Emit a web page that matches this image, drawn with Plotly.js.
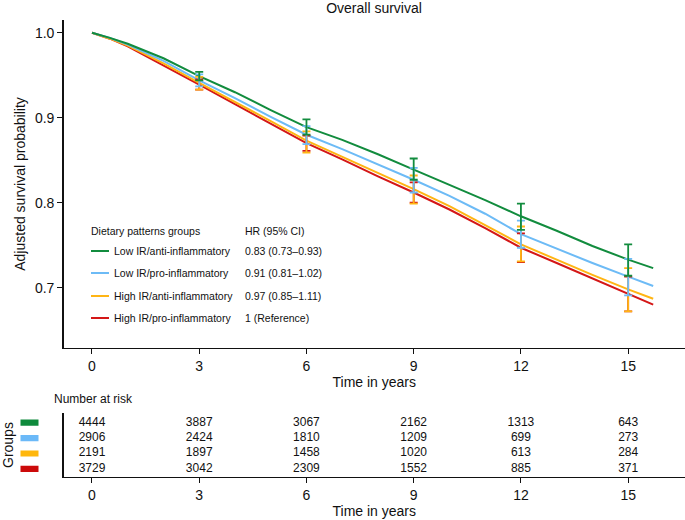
<!DOCTYPE html>
<html><head><meta charset="utf-8">
<script src="https://cdn.plot.ly/plotly-3.0.1.min.js"></script>
<style>html,body{margin:0;padding:0;background:#fff}</style>
</head><body><div id="chart" style="width:685px;height:520px"></div>
<script>
// ---------- data ----------
const groupNames = ['Low IR/anti-inflammatory','Low IR/pro-inflammatory','High IR/anti-inflammatory','High IR/pro-inflammatory'];
const hrLabels = ['0.83 (0.73\u20130.93)','0.91 (0.81\u20131.02)','0.97 (0.85\u20131.11)','1 (Reference)'];
const times = [0,0.5,1,2,3,4,5,6,7,8,9,10,11,12,13,14,15,15.7];
const survLowAnti  = [1.000,0.994,0.987,0.970,0.949,0.930,0.909,0.889,0.874,0.857,0.839,0.821,0.803,0.784,0.767,0.749,0.733,0.723];
const survLowPro   = [1.000,0.994,0.986,0.967,0.944,0.923,0.901,0.880,0.863,0.845,0.827,0.808,0.787,0.763,0.746,0.729,0.713,0.702];
const survHighAnti = [1.000,0.993,0.985,0.964,0.941,0.919,0.896,0.873,0.854,0.835,0.816,0.796,0.774,0.751,0.733,0.715,0.698,0.687];
const survHighPro  = [1.000,0.993,0.984,0.962,0.939,0.916,0.893,0.870,0.851,0.831,0.812,0.792,0.770,0.747,0.729,0.711,0.693,0.680];
const ciTimes = [3,6,9,12,15];
const ciLowLowAnti  = [0.944,0.880,0.827,0.768,0.714];
const ciUpLowAnti   = [0.954,0.898,0.852,0.799,0.751];
const ciLowLowPro   = [0.937,0.869,0.812,0.747,0.691];
const ciUpLowPro    = [0.951,0.890,0.841,0.779,0.734];
const ciLowHighAnti = [0.933,0.859,0.799,0.731,0.672];
const ciUpHighAnti  = [0.948,0.884,0.832,0.772,0.723];
const ciLowHighPro  = [0.933,0.861,0.800,0.730,0.672];
const ciUpHighPro   = [0.945,0.879,0.824,0.764,0.713];
const riskTimes = [0,3,6,9,12,15];
const riskLowAnti  = [4444,3887,3067,2162,1313,643];
const riskLowPro   = [2906,2424,1810,1209,699,273];
const riskHighAnti = [2191,1897,1458,1020,613,284];
const riskHighPro  = [3729,3042,2309,1552,885,371];
const xTicks = [0,3,6,9,12,15];
const yTicks = [0.7,0.8,0.9,1.0];

// ---------- styling ----------
const colors = ['#128C3E','#6DBBF6','#FFB514','#D41717'];
const swatchColors = ['#0E8A3C','#6BB9F8','#FFB70C','#CC0A0A'];
const W = 685, H = 520;
const px = v => v / W;
const py = v => (H - v) / H;
const FONT = 'Liberation Sans, Arial, Helvetica, sans-serif';

const surv = [survLowAnti, survLowPro, survHighAnti, survHighPro];
const ciLo = [ciLowLowAnti, ciLowLowPro, ciLowHighAnti, ciLowHighPro];
const ciUp = [ciUpLowAnti, ciUpLowPro, ciUpHighAnti, ciUpHighPro];
const risk = [riskLowAnti, riskLowPro, riskHighAnti, riskHighPro];

const traces = [];
const order = [3,2,1,0];
order.forEach(g => {
  traces.push({x: times, y: surv[g], type:'scatter', mode:'lines', xaxis:'x', yaxis:'y',
    line:{color: colors[g], width: 2}, hoverinfo:'skip', showlegend:false});
});
order.forEach(g => {
  const center = ciTimes.map(t => surv[g][times.indexOf(t)]);
  traces.push({x: ciTimes, y: center, type:'scatter', mode:'markers', xaxis:'x', yaxis:'y',
    marker:{size:2, color:'rgba(0,0,0,0)'}, showlegend:false, hoverinfo:'skip',
    error_y:{type:'data', symmetric:false,
      array: center.map((c,i) => ciUp[g][i] - c),
      arrayminus: center.map((c,i) => c - ciLo[g][i]),
      color: colors[g], thickness: 1.8, width: 4}});
});
// risk table
const rowY = [4,3,2,1];
for (let g = 0; g < 4; g++) {
  traces.push({x: riskTimes, y: riskTimes.map(() => rowY[g]), type:'scatter', mode:'text',
    xaxis:'x2', yaxis:'y2', text: risk[g].map(String), textposition:'middle center',
    textfont:{family: FONT, size: 12, color:'#111'}, hoverinfo:'skip', showlegend:false});
}

const xr = [-0.797, 16.59];
const axisCommon = {showgrid:false, zeroline:false, showline:true, linecolor:'#111', linewidth:1.3,
  ticks:'outside', ticklen:5, tickwidth:1, tickcolor:'#111', automargin:false,
  tickfont:{family: FONT, size: 14, color:'#111'}};

const shapes = [];
const annotations = [];
// legend
const legRows = [251, 273, 296, 318];
annotations.push({xref:'paper', yref:'paper', x:px(89), y:py(231), xanchor:'left', yanchor:'middle',
  text:'Dietary patterns groups', showarrow:false, font:{family:FONT, size:10.5, color:'#111'}});
annotations.push({xref:'paper', yref:'paper', x:px(243), y:py(231), xanchor:'left', yanchor:'middle',
  text:'HR (95% CI)', showarrow:false, font:{family:FONT, size:10.5, color:'#111'}});
for (let g = 0; g < 4; g++) {
  shapes.push({type:'line', xref:'paper', yref:'paper', x0:px(91), x1:px(109), y0:py(legRows[g]), y1:py(legRows[g]),
    line:{color: colors[g], width: 2}});
  annotations.push({xref:'paper', yref:'paper', x:px(112), y:py(legRows[g]), xanchor:'left', yanchor:'middle',
    text: groupNames[g], showarrow:false, font:{family:FONT, size:10.5, color:'#111'}});
  annotations.push({xref:'paper', yref:'paper', x:px(243), y:py(legRows[g]), xanchor:'left', yanchor:'middle',
    text: hrLabels[g], showarrow:false, font:{family:FONT, size:10.5, color:'#111'}});
  shapes.push({type:'rect', xref:'paper', yref:'y2', x0:px(20.5), x1:px(38.5), y0:rowY[g]-0.2, y1:rowY[g]+0.2,
    fillcolor: swatchColors[g], line:{width:0}});
}
annotations.push({xref:'paper', yref:'paper', x:px(52), y:py(399), xanchor:'left', yanchor:'middle',
  text:'Number at risk', showarrow:false, font:{family:FONT, size:12, color:'#111'}});
annotations.push({xref:'paper', yref:'paper', x:px(8), y:py(445), xanchor:'center', yanchor:'middle', textangle:-90,
  text:'Groups', showarrow:false, font:{family:FONT, size:14, color:'#111'}});

const layout = {
  width: W, height: H, margin:{l:0, r:0, t:0, b:0}, paper_bgcolor:'#fff', plot_bgcolor:'#fff',
  font:{family: FONT, color:'#111'}, showlegend:false,
  title:{text:'Overall survival', font:{family:FONT, size:14, color:'#111'}, xref:'paper', x: (374 - 63.5)/(W - 63.5) * (1 - 63.5/W) + 63.5/W,
    xanchor:'center', yref:'container', y: 1 - 8/H, yanchor:'middle'},
  xaxis: Object.assign({}, axisCommon, {domain:[px(63.5), 1], range: xr, tickvals: xTicks, anchor:'y',
    title:{text:'Time in years', font:{family:FONT, size:14, color:'#111'}, standoff: 4}}),
  yaxis: Object.assign({}, axisCommon, {domain:[py(348), py(20)], range:[0.629, 1.015], tickvals: yTicks,
    tickformat:'.1f', anchor:'x',
    title:{text:'Adjusted survival probability', font:{family:FONT, size:14, color:'#111'}, standoff: 6}}),
  xaxis2: Object.assign({}, axisCommon, {domain:[px(63.5), 1], range: xr, tickvals: xTicks, anchor:'y2',
    title:{text:'Time in years', font:{family:FONT, size:14, color:'#111'}, standoff: 4}}),
  yaxis2: Object.assign({}, axisCommon, {domain:[py(477), py(412.7)], range:[0.474, 4.649], ticks:'',
    showticklabels:false, anchor:'x2'}),
  shapes: shapes, annotations: annotations
};
Plotly.newPlot('chart', traces, layout, {displayModeBar:false, staticPlot:true});
</script></body></html>
